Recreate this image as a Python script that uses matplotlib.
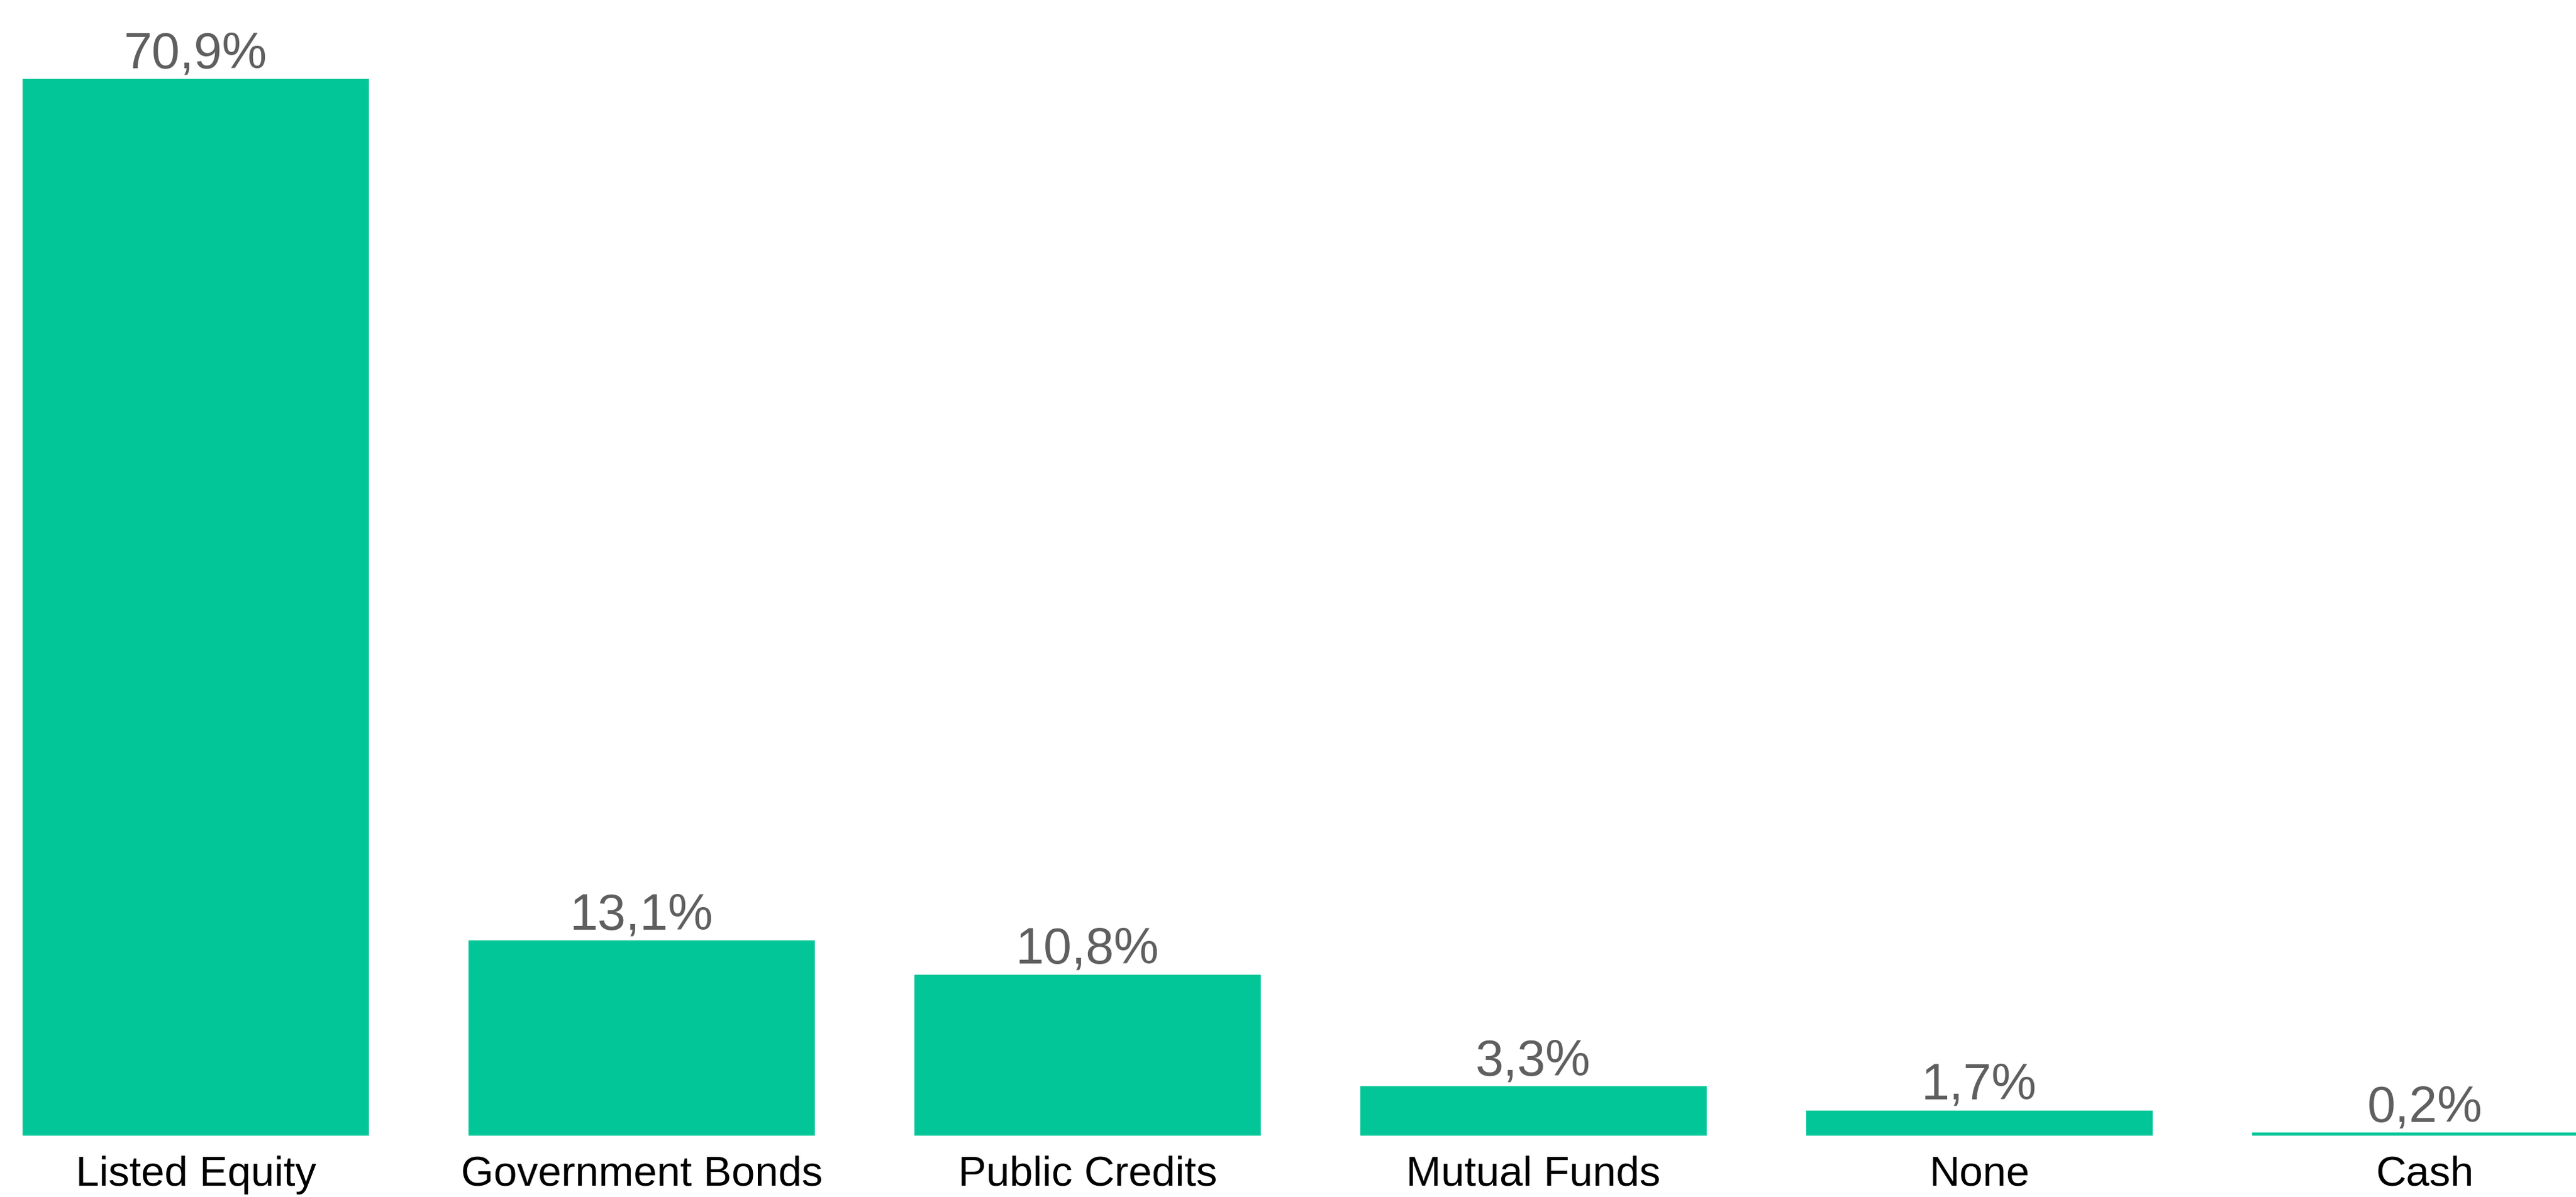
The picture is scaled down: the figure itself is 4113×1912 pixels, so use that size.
import matplotlib.pyplot as plt

categories = ["Listed Equity", "Government Bonds", "Public Credits",
              "Mutual Funds", "None", "Cash"]
shares = [70.9, 13.1, 10.8, 3.3, 1.7, 0.2]
value_labels = ["70,9%", "13,1%", "10,8%", "3,3%", "1,7%", "0,2%"]

bar_color = "#02c697"
label_grey = "#5f5f5f"

plt.rcParams["font.family"] = ["Liberation Sans", "DejaVu Sans"]

fig = plt.figure(figsize=(4113 / 300, 1912 / 300), dpi=300)
# axes spans the full width; baseline sits ~98 px above the bottom edge
ax = fig.add_axes([0, 98 / 1912, 1, 1814 / 1912])

x = range(len(categories))
bars = ax.bar(x, shares, width=0.777, color=bar_color)

for xi, v, lab in zip(x, shares, value_labels):
    ax.annotate(lab, (xi, v), xytext=(0, 4.3), textcoords="offset points",
                ha="center", va="baseline", fontsize=19.4, color=label_grey)

ax.set_xlim(-0.439, 5.338)
ax.set_ylim(0, 76.2)
ax.set_xticks(list(x))
ax.set_xticklabels(categories, fontsize=16.1, color="black")
ax.tick_params(axis="x", length=0, pad=7.6)
ax.set_yticks([])
for s in ax.spines.values():
    s.set_visible(False)

fig.savefig("out.png", dpi=300, facecolor="white")
